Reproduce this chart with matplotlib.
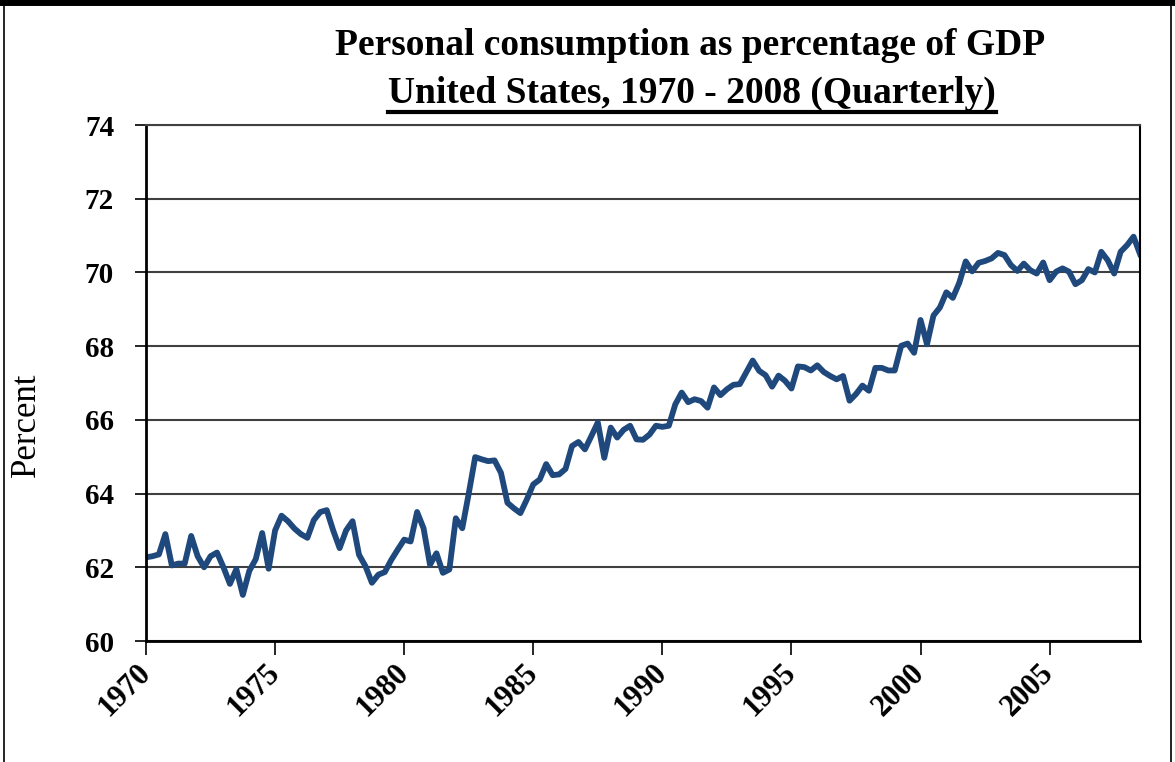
import numpy as np
import matplotlib
matplotlib.use('Agg')
import matplotlib.pyplot as plt
from matplotlib.lines import Line2D

# quarterly values, 1970Q1 .. 2008Q3
v1970s = [62.27, 62.30, 62.35, 62.90, 62.05, 62.10, 62.10, 62.85, 62.30, 62.00,
          62.30, 62.40, 62.00, 61.55, 61.95, 61.25, 61.90, 62.22, 62.93, 61.96,
          63.00, 63.40, 63.25, 63.05, 62.90, 62.80, 63.28, 63.50, 63.55, 63.00,
          62.52, 63.00, 63.25, 62.34, 62.03, 61.58, 61.80, 61.87, 62.20, 62.48]
v1980s = [62.75, 62.70, 63.50, 63.06, 62.07, 62.38, 61.85, 61.94, 63.33, 63.06,
          64.00, 64.99, 64.93, 64.88, 64.90, 64.56, 63.75, 63.60, 63.47, 63.84,
          64.25, 64.38, 64.80, 64.50, 64.52, 64.67, 65.29, 65.40, 65.20, 65.56,
          65.93, 64.97, 65.79, 65.52, 65.73, 65.84, 65.47, 65.46, 65.60, 65.84]
v1990s = [65.81, 65.84, 66.42, 66.74, 66.48, 66.56, 66.51, 66.33, 66.88, 66.67,
          66.83, 66.95, 66.97, 67.29, 67.61, 67.33, 67.21, 66.90, 67.20, 67.06,
          66.85, 67.45, 67.43, 67.34, 67.48, 67.30, 67.19, 67.10, 67.19, 66.52,
          66.70, 66.93, 66.79, 67.41, 67.41, 67.34, 67.34, 68.01, 68.07, 67.82]
v2000s = [68.71, 68.05, 68.83, 69.05, 69.46, 69.31, 69.72, 70.30, 70.03, 70.26,
          70.31, 70.38, 70.53, 70.47, 70.20, 70.04, 70.24, 70.06, 69.97, 70.27,
          69.79, 70.02, 70.11, 70.02, 69.68, 69.79, 70.09, 70.00, 70.56, 70.33,
          69.97, 70.56, 70.74, 70.97, 70.50]
values = v1970s + v1980s + v1990s + v2000s
quarters = 1970 + np.arange(len(values)) / 4.0

year_ticks = [1970, 1975, 1980, 1985, 1990, 1995, 2000, 2005]
pct_ticks = [60, 62, 64, 66, 68, 70, 72, 74]

title1 = 'Personal consumption as percentage of GDP'
title2 = 'United States, 1970 - 2008 (Quarterly)'

serif = 'Liberation Serif'

fig = plt.figure(figsize=(11.75, 7.62), dpi=100)
ax = fig.add_axes([146/1175, 1-641/762, (1140-146)/1175, (641-125)/762])

ax.plot(quarters, values, color='#1f497d', lw=4.2, solid_joinstyle='round')

ax.set_xlim(1970, 2008.5)
ax.set_ylim(60, 74)
ax.set_yticks(pct_ticks)
ax.set_xticks(year_ticks)
ax.set_yticklabels([str(t) for t in pct_ticks], fontfamily=serif, fontweight='bold', fontsize=21)
ax.set_xticklabels([str(t) for t in year_ticks], fontfamily=serif, fontweight='bold', fontsize=22,
                   rotation=45, ha='right', va='center', rotation_mode='anchor')
ax.tick_params(axis='y', direction='out', length=8, width=1.2, pad=15)
ax.tick_params(axis='x', direction='out', length=10, width=1.2, pad=10)

ax.grid(axis='y', color='#404040', lw=1.5)
ax.set_axisbelow(True)
for s in ['left', 'bottom']:
    ax.spines[s].set_linewidth(2)
    ax.spines[s].set_color('black')
ax.spines['top'].set_color('#404040')
ax.spines['top'].set_linewidth(1.5)
ax.spines['right'].set_color('black')
ax.spines['right'].set_linewidth(1.5)

ax.set_ylabel('Percent', fontfamily=serif, fontsize=25)
ax.yaxis.set_label_coords(-0.104, 0.42)

fig.text(0.587, 0.94, title1, fontfamily=serif, fontweight='bold', fontsize=27,
         ha='center', va='center')
t2 = fig.text(0.589, 0.878, title2, fontfamily=serif, fontweight='bold', fontsize=27,
              ha='center', va='center')

# underline under second title line
fig.canvas.draw()
bb = t2.get_window_extent().transformed(fig.transFigure.inverted())
fig.add_artist(Line2D([bb.x0, bb.x1], [bb.y0 - 0.002, bb.y0 - 0.002], color='black',
                      lw=3, transform=fig.transFigure))

# figure frame
fig.add_artist(Line2D([0, 1], [0.997, 0.997], color='black', lw=5, transform=fig.transFigure))
fig.add_artist(Line2D([0.003, 0.003], [0, 1], color='black', lw=1.2, transform=fig.transFigure))
fig.add_artist(Line2D([0.997, 0.997], [0, 1], color='black', lw=1.2, transform=fig.transFigure))

fig.savefig('out.png', dpi=100)
